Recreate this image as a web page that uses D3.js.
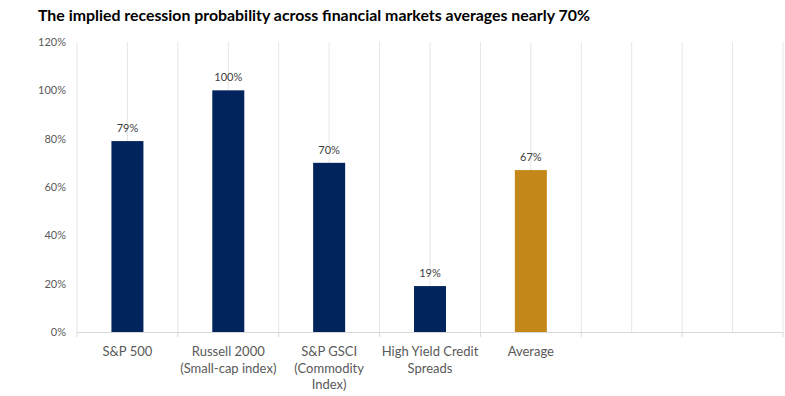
<!DOCTYPE html>
<html><head><meta charset="utf-8">
<script src="https://cdn.jsdelivr.net/npm/d3@7"></script>
<style>body{margin:0;background:#fff}svg{display:block}text{font-family:Lato,"Open Sans",sans-serif}</style>
</head><body><svg id="c" width="785" height="396"></svg>
<script>
const title = "The implied recession probability across financial markets averages nearly 70%";
const categories = ["S&P 500", "Russell 2000 (Small-cap index)", "S&P GSCI (Commodity Index)", "High Yield Credit Spreads", "Average", "", ""];
const categoryLines = [["S&P 500"], ["Russell 2000", "(Small-cap index)"], ["S&P GSCI", "(Commodity", "Index)"], ["High Yield Credit", "Spreads"], ["Average"], [], []];
const values = [79, 100, 70, 19, 67, null, null];
const isAverage = [false, false, false, false, true, false, false];
const yTicks = [0, 20, 40, 60, 80, 100, 120];

const svg = d3.select("#c");
const m = {left: 77, right: 783, top: 42, bottom: 332};
const x = d3.scaleBand().domain(d3.range(categories.length)).range([m.left, m.right]);
const y = d3.scaleLinear().domain([0, 120]).range([m.bottom, m.top]);
const barW = 32;

const t = svg.append("text").attr("x", 38).attr("y", 21).attr("font-weight", "bold")
  .attr("font-size", 15).attr("fill", "#000").text(title);
const tw = t.node().getComputedTextLength();
t.attr("font-size", 15 * 552 / tw);

// vertical gridlines at every half band
const gridX = d3.range(categories.length * 2 + 1).map(i => m.left + i * x.bandwidth() / 2);
svg.append("g").selectAll("line").data(gridX).join("line")
  .attr("x1", d => d).attr("x2", d => d).attr("y1", m.top).attr("y2", m.bottom)
  .attr("stroke", "#e6e6e6").attr("stroke-width", 1);

// y axis labels
const yAxis = d3.axisLeft(y).tickValues(yTicks).tickFormat(d => d + "%").tickSize(0).tickPadding(11);
const ga = svg.append("g").attr("transform", `translate(${m.left},0)`).call(yAxis);
ga.select(".domain").remove();
ga.selectAll("text").attr("font-size", 11).attr("fill", "#595959").style("font-family", "Lato, 'Open Sans', sans-serif");

// bars
svg.append("g").selectAll("rect").data(values.map((v, i) => ({v, i})).filter(d => d.v != null)).join("rect")
  .attr("x", d => x(d.i) + x.bandwidth() / 2 - barW / 2)
  .attr("width", barW)
  .attr("y", d => y(d.v))
  .attr("height", d => y(0) - y(d.v))
  .attr("fill", d => isAverage[d.i] ? "#C4881A" : "#00245B");

// data labels
svg.append("g").selectAll("text").data(values.map((v, i) => ({v, i})).filter(d => d.v != null)).join("text")
  .attr("x", d => x(d.i) + x.bandwidth() / 2)
  .attr("y", d => y(d.v) - 9)
  .attr("text-anchor", "middle").attr("font-size", 11).attr("fill", "#404040")
  .text(d => d.v + "%");

// x axis
const xAxis = d3.axisBottom(x).tickSize(0).tickFormat("");
const gx = svg.append("g").attr("transform", `translate(0,${m.bottom})`).call(xAxis);
gx.select(".domain").attr("stroke", "#d9d9d9").attr("d", `M${m.left},0.5H${m.right}`);
const tickX = d3.range(categories.length + 1).map(i => m.left + i * x.bandwidth());
svg.append("g").selectAll("line").data(tickX).join("line")
  .attr("x1", d => d).attr("x2", d => d).attr("y1", m.bottom).attr("y2", m.bottom + 5)
  .attr("stroke", "#d9d9d9");

const lab = svg.append("g");
categoryLines.forEach((lines, i) => {
  lines.forEach((t, j) => {
    lab.append("text").attr("x", x(i) + x.bandwidth() / 2).attr("y", 356 + j * 16.5)
      .attr("text-anchor", "middle").attr("font-size", 13).attr("fill", "#595959").text(t);
  });
});
</script></body></html>
